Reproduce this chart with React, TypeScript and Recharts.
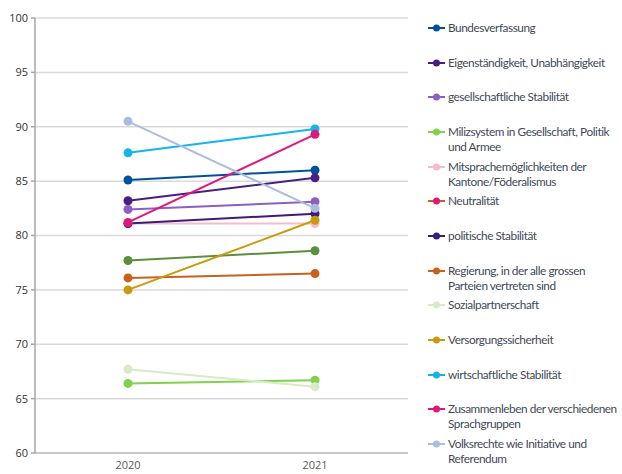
import React from "react";
import { LineChart, Line, XAxis, YAxis, CartesianGrid } from "recharts";

const years = ["2020", "2021"];
const seriesNames = [
  "Bundesverfassung",
  "Eigenständigkeit, Unabhängigkeit",
  "gesellschaftliche Stabilität",
  "Milizsystem in Gesellschaft, Politik und Armee",
  "Mitsprachemöglichkeiten der Kantone/Föderalismus",
  "Neutralität",
  "politische Stabilität",
  "Regierung, in der alle grossen Parteien vertreten sind",
  "Sozialpartnerschaft",
  "Versorgungssicherheit",
  "wirtschaftliche Stabilität",
  "Zusammenleben der verschiedenen Sprachgruppen",
  "Volksrechte wie Initiative und Referendum",
];
const legendLines = [
  ["Bundesverfassung"],
  ["Eigenständigkeit, Unabhängigkeit"],
  ["gesellschaftliche Stabilität"],
  ["Milizsystem in Gesellschaft, Politik", "und Armee"],
  ["Mitsprachemöglichkeiten der", "Kantone/Föderalismus"],
  ["Neutralität"],
  ["politische Stabilität"],
  ["Regierung, in der alle grossen", "Parteien vertreten sind"],
  ["Sozialpartnerschaft"],
  ["Versorgungssicherheit"],
  ["wirtschaftliche Stabilität"],
  ["Zusammenleben der verschiedenen", "Sprachgruppen"],
  ["Volksrechte wie Initiative und", "Referendum"],
];
const values2020 = [85.1, 83.2, 82.4, 66.4, 81.1, 77.7, 81.1, 76.1, 67.7, 75.0, 87.6, 81.2, 90.5];
const values2021 = [86.0, 85.3, 83.1, 66.7, 81.1, 78.6, 82.0, 76.5, 66.1, 81.4, 89.8, 89.3, 82.5];
const yTicks = [60, 65, 70, 75, 80, 85, 90, 95, 100];

const lineColors = [
  "#00509b", "#4a1d80", "#8d5ec4", "#80d14b", "#f7bccb", "#5a8f3c", "#3e1a79",
  "#c9601c", "#d6ebc6", "#c99a0b", "#14b4ea", "#e1187b", "#a9bddc",
];
const legendLineColors = [...lineColors];
legendLineColors[5] = "#c9601c";
const legendDotColors = [...lineColors];
legendDotColors[5] = "#e1187b";

const data = years.map((y, yi) => {
  const row: any = { year: y };
  seriesNames.forEach((n, i) => {
    row["s" + i] = yi === 0 ? values2020[i] : values2021[i];
  });
  return row;
});

export default function App() {
  return (
    <div style={{ position: "absolute", left: 0, top: 0, width: 622, height: 474, background: "#fff", overflow: "hidden" }}>
      <LineChart width={622} height={474} data={data} margin={{ top: 18, right: 214, bottom: 0, left: 0 }}>
        <CartesianGrid vertical={false} stroke="#d9d9d9" strokeWidth={1.5} />
        <XAxis
          dataKey="year"
          padding={{ left: 93, right: 93 }}
          tickLine={false}
          height={21}
          stroke="#bfbfbf"
          strokeWidth={1.5}
          tick={{ fill: "#595959", fontSize: 11, fontFamily: "Open Sans" }}
          tickMargin={2}
        />
        <YAxis
          domain={[60, 100]}
          ticks={yTicks}
          width={35}
          stroke="#a6a6a6"
          strokeWidth={1.5}
          tickSize={4}
          tickMargin={3}
          tick={{ fill: "#333333", fontSize: 11, fontFamily: "Open Sans" }}
        />
        {seriesNames.map((n, i) => (
          <Line
            key={n}
            dataKey={"s" + i}
            name={n}
            stroke={lineColors[i]}
            strokeWidth={2}
            dot={{ r: 4.5, fill: lineColors[i], stroke: lineColors[i], strokeWidth: 0 }}
            isAnimationActive={false}
          />
        ))}
      </LineChart>
      {legendLines.map((lines, i) => {
        const cy = 28 + i * 34.67;
        return (
          <div key={i}>
            <svg style={{ position: "absolute", left: 426, top: cy - 5 }} width={20} height={10}>
              <line x1={2} y1={5} x2={19} y2={5} stroke={legendLineColors[i]} strokeWidth={2} />
              <circle cx={10.5} cy={5} r={3.5} fill={legendDotColors[i]} />
            </svg>
            <div
              style={{
                position: "absolute",
                left: 448,
                top: cy - 8,
                fontFamily: "Lato",
                fontSize: 11.8,
                letterSpacing: -0.45,
                lineHeight: "15px",
                color: "#3f4a58",
                whiteSpace: "nowrap",
              }}
            >
              {lines.map((l, j) => (
                <div key={j}>{l}</div>
              ))}
            </div>
          </div>
        );
      })}
    </div>
  );
}
